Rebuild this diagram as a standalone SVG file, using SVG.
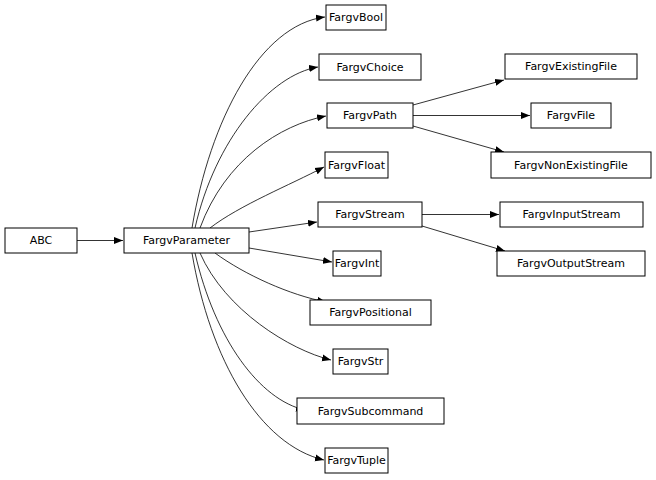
<svg xmlns="http://www.w3.org/2000/svg" width="656" height="480" viewBox="0 0 656 480">
<style>
rect{fill:#fff;stroke:#000;stroke-width:1}
text{font-family:"DejaVu Sans",sans-serif;font-size:11px;text-anchor:middle;dominant-baseline:central}
path{fill:none;stroke:#000;stroke-width:0.8;marker-end:url(#a)}
</style>
<defs><marker id="a" markerWidth="10" markerHeight="8" refX="9" refY="4" orient="auto" markerUnits="userSpaceOnUse"><polygon points="0,0.5 9,4 0,7.5" fill="#000"/></marker></defs>
<rect width="656" height="480" style="stroke:none"/>
<g id="edges">
<path d="M77,240.5 H123"/>
<path d="M192,228 C210,120 260,25 325,17"/>
<path d="M195,228 C215,140 270,75 318,67"/>
<path d="M200,228 C225,160 280,125 326,116"/>
<path d="M210,228 C240,205 290,185 324,167"/>
<path d="M249,232 L317,222"/>
<path d="M249,248 L332,262"/>
<path d="M215,253 C245,275 290,295 326,302"/>
<path d="M200,253 C225,310 290,350 331,360"/>
<path d="M195,253 C215,340 260,400 305,410"/>
<path d="M192,253 C210,360 260,445 324,460"/>
<path d="M413,105 L504,80"/>
<path d="M413,115.5 H530"/>
<path d="M413,126 L504,152"/>
<path d="M422,214.5 H499"/>
<path d="M422,226 L505,251"/>
</g>
<g id="ABC"><rect x="5" y="228" width="72" height="25"/><text x="41" y="240.5">ABC</text></g>
<g id="FargvParameter"><rect x="124" y="228" width="125" height="25"/><text x="186.5" y="240.5">FargvParameter</text></g>
<g id="FargvBool"><rect x="326" y="5" width="60" height="25"/><text x="356" y="17.5">FargvBool</text></g>
<g id="FargvChoice"><rect x="319" y="54" width="102" height="26"/><text x="370" y="67">FargvChoice</text></g>
<g id="FargvPath"><rect x="327" y="103" width="86" height="25"/><text x="370" y="115.5">FargvPath</text></g>
<g id="FargvFloat"><rect x="325" y="152" width="63" height="26"/><text x="356.5" y="165">FargvFloat</text></g>
<g id="FargvStream"><rect x="318" y="202" width="104" height="25"/><text x="370" y="214.5">FargvStream</text></g>
<g id="FargvInt"><rect x="333" y="251" width="48" height="25"/><text x="357" y="263.5">FargvInt</text></g>
<g id="FargvPositional"><rect x="310" y="300" width="121" height="25"/><text x="370.5" y="312.5">FargvPositional</text></g>
<g id="FargvStr"><rect x="333" y="349" width="55" height="25"/><text x="360.5" y="361.5">FargvStr</text></g>
<g id="FargvSubcommand"><rect x="297" y="398" width="147" height="26"/><text x="370.5" y="411">FargvSubcommand</text></g>
<g id="FargvTuple"><rect x="325" y="448" width="63" height="25"/><text x="356.5" y="460.5">FargvTuple</text></g>
<g id="FargvExistingFile"><rect x="505" y="54" width="132" height="25"/><text x="571" y="66.5">FargvExistingFile</text></g>
<g id="FargvFile"><rect x="531" y="103" width="80" height="25"/><text x="571" y="115.5">FargvFile</text></g>
<g id="FargvNonExistingFile"><rect x="491" y="152" width="160" height="26"/><text x="571" y="165">FargvNonExistingFile</text></g>
<g id="FargvInputStream"><rect x="500" y="202" width="143" height="25"/><text x="571.5" y="214.5">FargvInputStream</text></g>
<g id="FargvOutputStream"><rect x="497" y="251" width="148" height="25"/><text x="571" y="263.5">FargvOutputStream</text></g>
</svg>
